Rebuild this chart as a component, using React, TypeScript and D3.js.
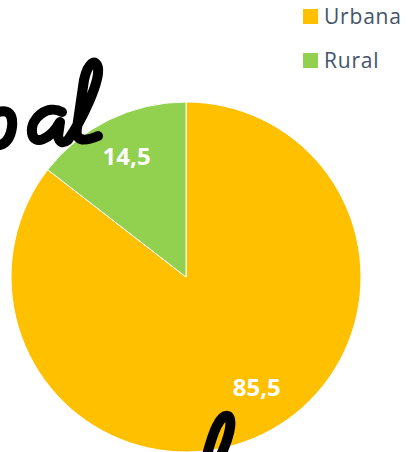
import React from "react";
import * as d3 from "d3";

const categories = ["Urbana", "Rural"];
const values = [85.5, 14.5];
const labels = ["85,5", "14,5"];
const colors = ["#FFC000", "#92D050"];

const W = 411;
const H = 452;
const cx = 186;
const cy = 277;
const R = 175;

export default function App() {
  const pie = d3
    .pie<number>()
    .sort(null)
    .value((d) => d)(values);
  const arc = d3.arc<d3.PieArcDatum<number>>().innerRadius(0).outerRadius(R);
  const labelRadius = [130, 135];
  const labelNudge = [-0.12, 0];

  return (
    <svg
      width={W}
      height={H}
      style={{ position: "absolute", left: 0, top: 0, background: "#fff" }}
    >
      <g transform={`translate(${cx},${cy})`}>
        {pie.map((p, i) => (
          <path key={i} d={arc(p) || ""} fill={colors[i]} stroke="#fff" strokeWidth={1} />
        ))}
        {pie.map((p, i) => {
          const a = (p.startAngle + p.endAngle) / 2 + labelNudge[i];
          const x = Math.sin(a) * labelRadius[i];
          const y = -Math.cos(a) * labelRadius[i];
          return (
            <text
              key={i}
              x={x}
              y={y}
              textAnchor="middle"
              dominantBaseline="central"
              fill="#fff"
              fontFamily="'Open Sans', sans-serif"
              fontWeight={700}
              fontSize={24}
            >
              {labels[i]}
            </text>
          );
        })}
      </g>
      {/* handwritten overlay strokes */}
      <g fill="none" stroke="#000" strokeLinecap="round" strokeLinejoin="round">
        <path d="M -2 112 Q 14 108 12 127 Q 10 142 0 145" strokeWidth={10} />
        <path
          d="M 62 112 C 48 104, 30 118, 32 133 C 34 146, 50 140, 60 122 L 58 136 Q 60 146 68 140 C 82 120, 100 82, 98 68 C 96 58, 88 62, 84 80 L 77 128 Q 74 146 98 136"
          strokeWidth={10}
        />
        <path d="M 207 455 C 213 432, 220 414, 228 416 C 234 420, 228 440, 221 455" strokeWidth={10} />
      </g>
      {categories.map((c, i) => (
        <g key={c} transform={`translate(303,${9 + i * 44})`}>
          <rect width={15} height={15} fill={colors[i]} />
          <text
            x={21}
            y={15}
            fill="#44546A"
            fontFamily="'Open Sans', sans-serif"
            fontSize={21}
            letterSpacing={0.8}
          >
            {c}
          </text>
        </g>
      ))}
    </svg>
  );
}
